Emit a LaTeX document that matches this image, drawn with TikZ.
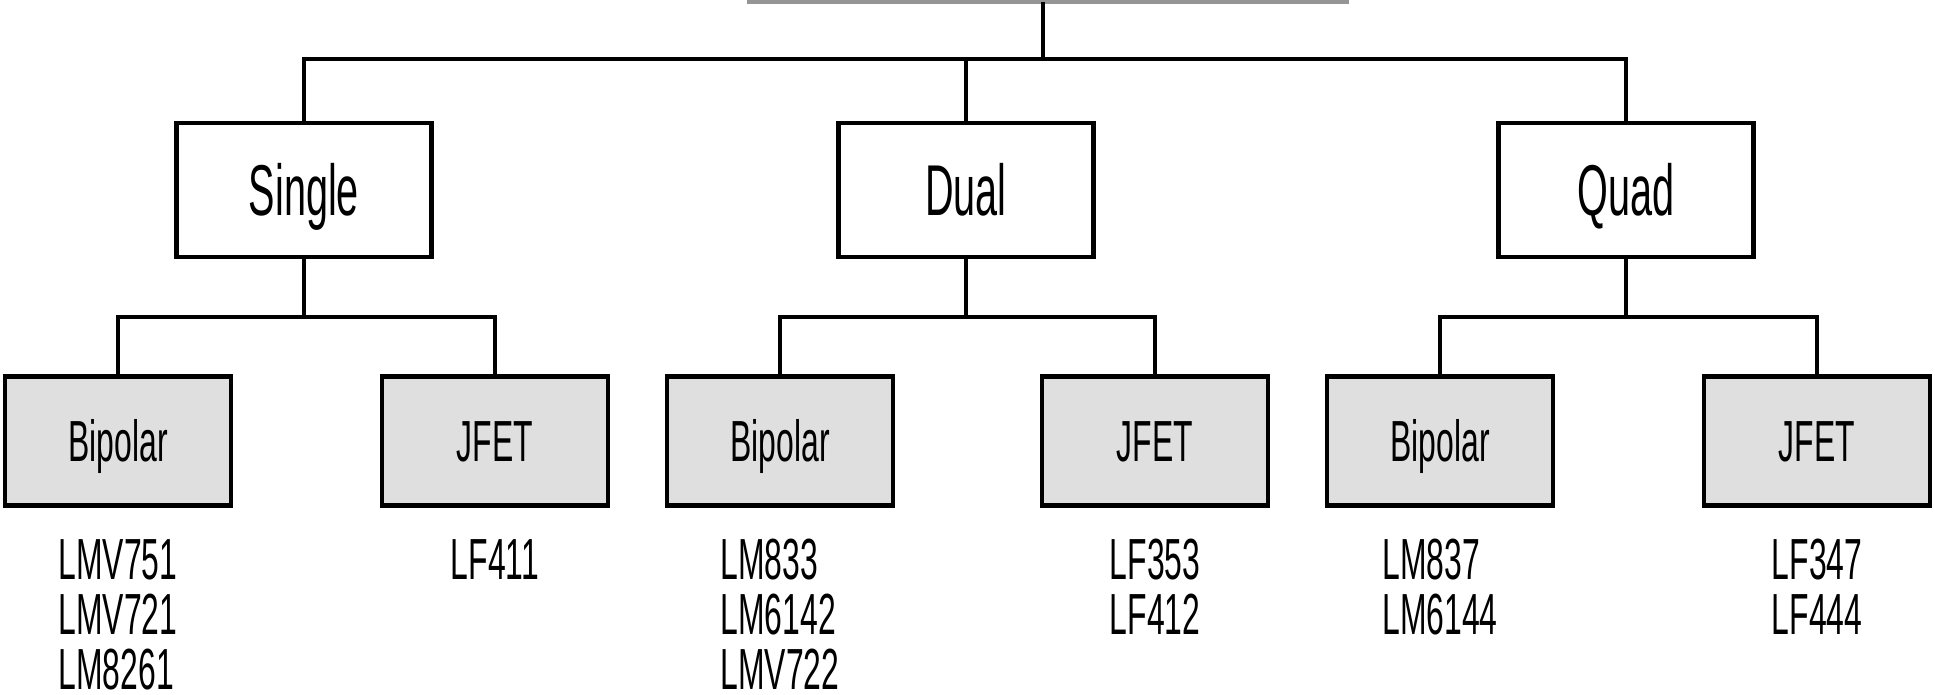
\documentclass[tikz,border=0pt]{standalone}
\usepackage{fontspec}
\setmainfont[FakeStretch=0.55]{Liberation Sans}
\definecolor{boxgray}{HTML}{DFDFDF}
\definecolor{bargray}{HTML}{959595}
\begin{document}
\begin{tikzpicture}[x=0.5pt,y=-0.5pt,
  conn/.style={line width=2.25pt},
  mainbox/.style={draw, line width=2.25pt, fill=white, minimum width=127.5pt, minimum height=67pt, inner sep=0pt, text height=25.8pt, text depth=0pt, font=\fontsize{36}{40}\selectfont},
  subbox/.style={draw, line width=2.25pt, fill=boxgray, minimum width=113pt, minimum height=64.5pt, inner sep=0pt, text height=20.8pt, text depth=0pt, font=\fontsize{29}{27.5}\selectfont},
  parts/.style={align=left, anchor=north, inner sep=0pt, font=\fontsize{29}{27.5}\selectfont}]
\useasboundingbox (0,0) rectangle (1935,695);
% root bar (partly out of frame)
\coordinate (rootL) at (747,2);
\coordinate (rootR) at (1349,2);
\coordinate (root) at (1043,2);
\draw[bargray, line width=2.5pt] (rootL) -- (rootR);
% main boxes
\node[mainbox] (single) at (304,190) {Single};
\node[mainbox] (dual)   at (966,190) {Dual};
\node[mainbox] (quad)   at (1626,190) {Quad};
% sub boxes
\node[subbox] (sbip)  at (118,441)  {Bipolar};
\node[subbox] (sjfet) at (495,441)  {JFET};
\node[subbox] (dbip)  at (780,441)  {Bipolar};
\node[subbox] (djfet) at (1155,441) {JFET};
\node[subbox] (qbip)  at (1440,441) {Bipolar};
\node[subbox] (qjfet) at (1817,441) {JFET};
% connectors
\coordinate (bus) at (1043,59);
\draw[conn] (root) -- (bus);
\draw[conn] (single.north) |- (bus) -| (quad.north);
\draw[conn] (dual.north) -- (dual.north |- bus);
\coordinate (sbus) at (304,317);
\coordinate (dbus) at (966,317);
\coordinate (qbus) at (1626,317);
\draw[conn] (single.south) -- (sbus);
\draw[conn] (sbip.north) |- (sbus) -| (sjfet.north);
\draw[conn] (dual.south) -- (dbus);
\draw[conn] (dbip.north) |- (dbus) -| (djfet.north);
\draw[conn] (quad.south) -- (qbus);
\draw[conn] (qbip.north) |- (qbus) -| (qjfet.north);
% part lists
\node[parts] (lsbip)  at (118,539)  {LMV751\\LMV721\\\smash{LM8261}};
\node[parts] (lsjfet) at (495,539)  {LF411};
\node[parts] (ldbip)  at (780,539)  {LM833\\LM6142\\\smash{LMV722}};
\node[parts] (ldjfet) at (1155,539) {LF353\\LF412};
\node[parts] (lqbip)  at (1440,539) {LM837\\LM6144};
\node[parts] (lqjfet) at (1817,539) {LF347\\LF444};
\end{tikzpicture}
\end{document}
